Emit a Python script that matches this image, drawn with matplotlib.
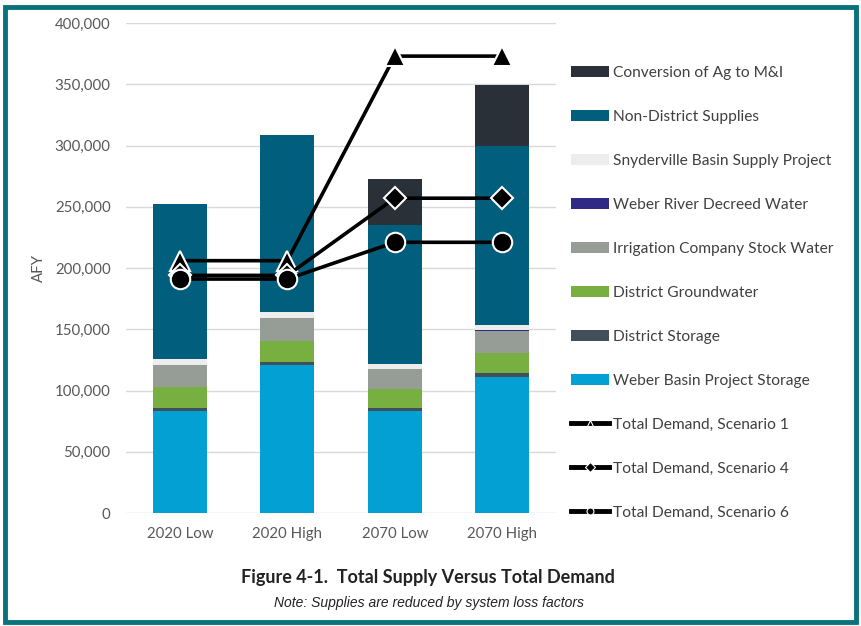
import numpy as np
import matplotlib
matplotlib.use("Agg")
import matplotlib.pyplot as plt
from matplotlib.patches import Patch, Rectangle
from matplotlib.lines import Line2D
from matplotlib.ticker import FuncFormatter

plt.rcParams['font.family'] = ['Lato', 'DejaVu Sans']

# Categories and supply components (AFY), bottom to top
scenarios = ['2020 Low', '2020 High', '2070 Low', '2070 High']
weber_basin_project = [83000, 120500, 83000, 111000]
district_storage = [3000, 2500, 3000, 3000]
district_groundwater = [17000, 17500, 15000, 17000]
irrigation_stock = [18000, 18500, 16500, 17500]
weber_river_decreed = [0, 0, 0, 800]
snyderville = [4500, 5000, 4500, 4500]
non_district = [126500, 145000, 113500, 145500]
conversion_ag = [0, 0, 37000, 50500]

# Total demand lines
demand_s1 = [206000, 206000, 373000, 373000]
demand_s4 = [194000, 194000, 257000, 257000]
demand_s6 = [191000, 191000, 221000, 221000]

components = [
    ('Weber Basin Project Storage', weber_basin_project, '#02a0d3'),
    ('District Storage', district_storage, '#414f5b'),
    ('District Groundwater', district_groundwater, '#77b041'),
    ('Irrigation Company Stock Water', irrigation_stock, '#959d96'),
    ('Weber River Decreed Water', weber_river_decreed, '#2f2a84'),
    ('Snyderville Basin Supply Project', snyderville, '#ededed'),
    ('Non-District Supplies', non_district, '#015e7d'),
    ('Conversion of Ag to M&I', conversion_ag, '#2a3038'),
]

fig = plt.figure(figsize=(8.62, 6.26), dpi=100)
ax = fig.add_axes([0.1462, 0.1805, 0.4988, 0.7827])

x = np.arange(len(scenarios))
bottom = np.zeros(len(scenarios))
handles = []
for name, vals, color in components:
    ax.bar(x, vals, width=0.5, bottom=bottom, color=color, zorder=2)
    bottom += np.array(vals)
    handles.append(Patch(facecolor=color, label=name))
handles = handles[::-1]

# Demand lines
ax.plot(x, demand_s1, color='black', lw=2.6, marker='^', markersize=15,
        markerfacecolor='black', markeredgecolor='white', markeredgewidth=1.5, zorder=4)
ax.plot(x, demand_s4, color='black', lw=2.6, marker='D', markersize=11,
        markerfacecolor='black', markeredgecolor='white', markeredgewidth=1.5, zorder=5)
ax.plot(x, demand_s6, color='black', lw=2.6, marker='o', markersize=14,
        markerfacecolor='black', markeredgecolor='white', markeredgewidth=1.5, zorder=6)

for lab, mk in [('Total Demand, Scenario 1', '^'), ('Total Demand, Scenario 4', 'D'),
                ('Total Demand, Scenario 6', 'o')]:
    handles.append(Line2D([0], [0], color='black', lw=3.5, marker=mk, markersize=5,
                          markerfacecolor='black', markeredgecolor='white',
                          markeredgewidth=0.8, label=lab))

ax.set_xlim(-0.5, 3.5)
ax.set_ylim(0, 400000)
ax.set_yticks(np.arange(0, 400001, 50000))
ax.yaxis.set_major_formatter(FuncFormatter(lambda v, p: f'{int(v):,}'))
ax.set_xticks(x)
ax.set_xticklabels(scenarios)
ax.grid(axis='y', color='#d9d9d9', lw=1, zorder=0)
ax.set_axisbelow(True)
for s in ax.spines.values():
    s.set_visible(False)
ax.tick_params(axis='both', length=0, labelsize=10.8, labelcolor='#595959')
ax.tick_params(axis='y', pad=11)
ax.tick_params(axis='x', pad=10)
ax.set_ylabel('AFY', fontsize=10.8, color='#595959', labelpad=6)

fig.legend(handles=handles, loc='upper left', bbox_to_anchor=(0.655, 0.905),
           frameon=False, fontsize=11.2, labelspacing=1.93, handlelength=2.45,
           handletextpad=0.25, labelcolor='#404040', borderaxespad=0)

fig.text(0.4965, 0.0767, 'Figure 4-1.  Total Supply Versus Total Demand',
         ha='center', va='center', fontsize=13, fontweight='bold', color='#222222')
fig.text(0.498, 0.0367, 'Note: Supplies are reduced by system loss factors',
         ha='center', va='center', fontsize=10, style='italic', color='#222222',
         family='Liberation Sans')

# teal frame around the figure
fig.patches.append(Rectangle((5 / 862, 1 - 621.5 / 626), 851.5 / 862, 615 / 626,
                             transform=fig.transFigure, fill=False,
                             edgecolor='#08737a', lw=3.5))

fig.savefig('out.png', dpi=100)
